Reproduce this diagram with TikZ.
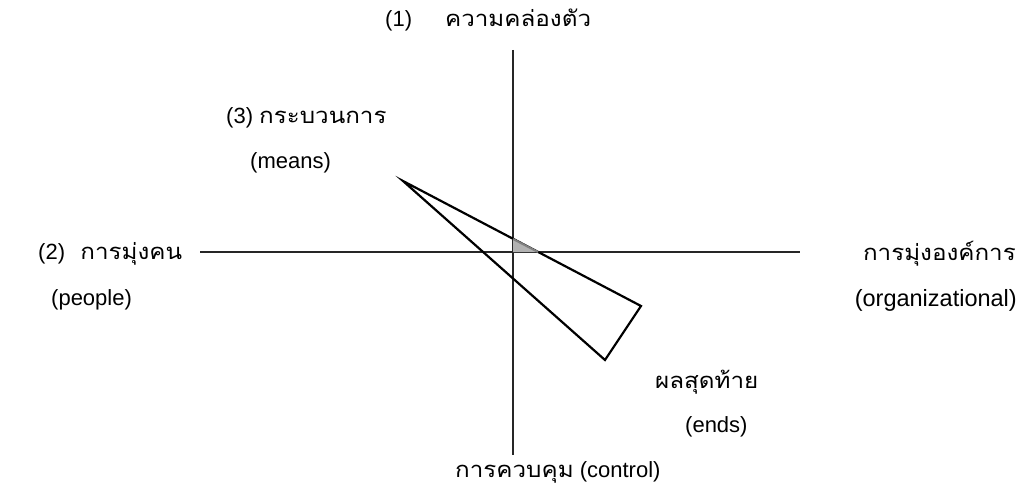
\documentclass[tikz,border=0pt]{standalone}
\usepackage{fontspec}
\setmainfont{Liberation Sans}
\newfontfamily\thai[Script=Thai,FakeStretch=1.1]{Loma}
\begin{document}
\begin{tikzpicture}[x=1pt,y=-1pt,
  lbl/.style={inner sep=0pt,font=\fontsize{22}{26}\selectfont},
  axis/.style={line width=1.2pt,black!85},
  tri/.style={line width=2.2pt,black,line join=miter}]
\useasboundingbox (0,0) rectangle (1023,487);
% axes
\coordinate (vt) at (513,50);
\coordinate (vb) at (513,455);
\coordinate (hl) at (200,252);
\coordinate (hr) at (800,252);
\draw[axis] (vt) -- (vb);
\draw[axis] (hl) -- (hr);
% triangle
\coordinate (A) at (403,181);
\coordinate (B) at (641,306);
\coordinate (C) at (605,360);
\draw[tri] (A) -- (B) -- (C) -- cycle;
% gray triangle near origin
\coordinate (g1) at (513,239);
\coordinate (g2) at (538,252);
\coordinate (g0) at (513,252);
\fill[black!30] (g0) -- (g1) -- (g2) -- cycle;
\draw[line width=2pt,black!50] (g1) -- (g2);
% labels
\node[lbl,anchor=west] (n1) at (385,20) {(1)\hspace{1.5em}{\thai ความคล่องตัว}};
\node[lbl,anchor=west] (n3) at (226,118) {(3) {\thai กระบวนการ}};
\node[lbl,anchor=west] (means) at (250,163) {(means)};
\node[lbl,anchor=west] (n2) at (38,254) {(2)\hspace{0.7em}{\thai การมุ่งคน}};
\node[lbl,anchor=west] (people) at (51,300) {(people)};
\node[lbl,anchor=east] (org) at (1016,254) {\thai การมุ่งองค์การ};
\node[lbl,anchor=east,font=\fontsize{23.5}{28}\selectfont] (orgE) at (1017,300) {(organizational)};
\node[lbl,anchor=west] (ends) at (655,382) {\thai ผลสุดท้าย};
\node[lbl,anchor=west] (endsE) at (685,427) {(ends)};
\node[lbl,anchor=west] (ctl) at (455,472) {{\thai การควบคุม} (control)};
\end{tikzpicture}
\end{document}
